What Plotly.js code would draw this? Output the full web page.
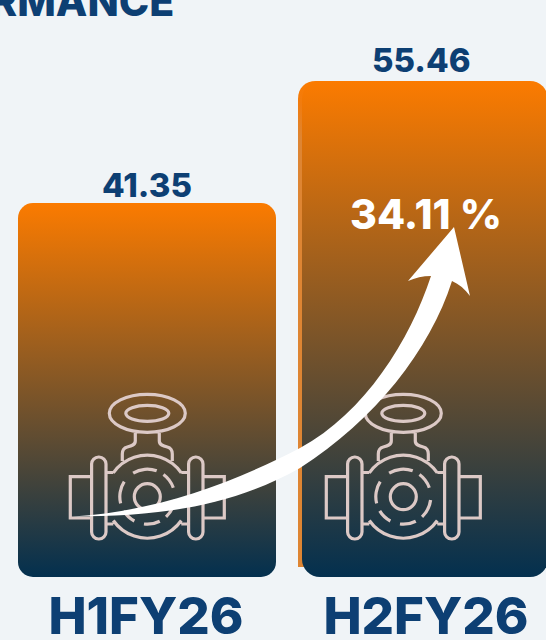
<!DOCTYPE html>
<html>
<head>
<meta charset="utf-8">
<script src="https://cdn.plot.ly/plotly-3.0.1.min.js"></script>
<style>html,body{margin:0;padding:0;background:#f0f4f7;overflow:hidden}#chart{width:546px;height:640px}</style>
</head>
<body>
<div id="chart"></div>
<script>
const categories = ['H1FY26', 'H2FY26'];
const values = [41.35, 55.46];
const valueLabels = ['41.35', '55.46'];
const growthLabel = '34.11 %';
const titleFragment = 'RMANCE';

const W = 546, H = 640, BOTTOM = 577;
const FONT = 'Inter, "Open Sans", sans-serif';
const NAVY = '#0d3f73';
const ICON = '#dcc9c6';

// plot-area pixel -> paper fraction
const px = x => (x / W).toFixed(5);
const py = y => (1 - y / BOTTOM).toFixed(5);
const P = (x, y) => px(x) + ',' + py(y);

function arc(cx, cy, rx, ry, a0, a1, move) {
  const n = Math.max(1, Math.ceil(Math.abs(a1 - a0) / 45));
  const step = (a1 - a0) / n * Math.PI / 180;
  const k = 4 / 3 * Math.tan(step / 4);
  let a = a0 * Math.PI / 180;
  let s = (move ? 'M' : 'L') + P(cx + rx * Math.cos(a), cy - ry * Math.sin(a));
  for (let i = 0; i < n; i++) {
    const b = a + step;
    s += 'C' + P(cx + rx * (Math.cos(a) - k * Math.sin(a)), cy - ry * (Math.sin(a) + k * Math.cos(a))) +
         ' ' + P(cx + rx * (Math.cos(b) + k * Math.sin(b)), cy - ry * (Math.sin(b) - k * Math.cos(b))) +
         ' ' + P(cx + rx * Math.cos(b), cy - ry * Math.sin(b));
    a = b;
  }
  return s;
}
function rrect(x0, y0, x1, y1, r) {
  return arc(x1 - r, y0 + r, r, r, 90, 0, true) + arc(x1 - r, y1 - r, r, r, 0, -90) +
         arc(x0 + r, y1 - r, r, r, -90, -180) + arc(x0 + r, y0 + r, r, r, 180, 90) + 'Z';
}
function valve(cx) {
  const wy = 413.3, cy = 496.7;
  let d = '';
  d += arc(cx, wy, 38, 19, 0, 360, true) + 'Z';
  d += arc(cx, wy, 21.5, 8, 0, 360, true) + 'Z';
  for (const s of [-1, 1]) {
    d += 'M' + P(cx + s * 12, 432) + 'L' + P(cx + s * 12, 441) +
         'C' + P(cx + s * 12, 445) + ' ' + P(cx + s * 16, 446) + ' ' + P(cx + s * 20, 447) +
         'C' + P(cx + s * 24, 448) + ' ' + P(cx + s * 25, 450) + ' ' + P(cx + s * 25, 454) +
         'L' + P(cx + s * 25, 461);
    d += rrect(cx + s * 48.5 - 7.2, 457, cx + s * 48.5 + 7.2, 539, 7);
    const xa = cx + s * 56, xb = cx + s * 77;
    d += 'M' + P(xa, 476.7) + 'L' + P(xb, 476.7) + 'L' + P(xb, 518) + 'L' + P(xa, 518);
    d += 'M' + P(cx + s * 41, 472.5) + 'L' + P(cx + s * 34, 472.5);
    d += 'M' + P(cx + s * 41, 524) + 'L' + P(cx + s * 34, 524);
  }
  d += arc(cx, cy, 41.5, 41.5, 145, 35, true);
  d += arc(cx, cy, 41.5, 41.5, -35, -145, true);
  d += arc(cx, cy, 13, 13, 0, 360, true) + 'Z';
  for (const g of [[121, 70], [54, 19], [-7, -47], [-63, -97], [-118, -149], [-166, -213]]) {
    d += arc(cx, cy, 27.5, 27.5, g[0], g[1], true);
  }
  return {type: 'path', xref: 'paper', yref: 'paper', layer: 'above', path: d,
          line: {color: ICON, width: 3.2}, fillcolor: 'rgba(0,0,0,0)'};
}

const arrowPath =
  'M' + P(73, 516.5) +
  'C' + P(155, 512) + ' ' + P(235, 482) + ' ' + P(300, 448) +
  'C' + P(365, 413) + ' ' + P(410, 340) + ' ' + P(431, 276) +
  'C' + P(423, 276) + ' ' + P(415, 278) + ' ' + P(408, 281) +
  'L' + P(454, 227) + 'L' + P(470, 296) +
  'C' + P(465, 289) + ' ' + P(459, 284) + ' ' + P(452, 281) +
  'C' + P(430, 350) + ' ' + P(375, 420) + ' ' + P(300, 468) +
  'C' + P(225, 510) + ' ' + P(150, 516) + ' ' + P(73, 516.5) + 'Z';

const stripPath = 'M' + P(316, 81) +
  'C' + P(305, 81) + ' ' + P(298, 88) + ' ' + P(298, 99) +
  'L' + P(298, 567) + 'L' + P(330, 567) + 'L' + P(330, 81) + 'Z';

// value scale: tops of the two bars fall at their drawn heights
const SCALE = (203 - 81) / (values[1] - values[0]);
const yAtTop = values[0] + 203 / SCALE;
const BASE = yAtTop - BOTTOM / SCALE;

// category scale
const STEP = 280, C0 = 146;

const data = [{
  type: 'bar',
  x: categories,
  y: values.map(v => v - BASE),
  base: BASE,
  width: [258 / STEP, 246 / STEP],
  offset: [(18 - C0) / STEP, (302 - C0 - STEP) / STEP],
  marker: {color: '#fb7b00', line: {width: 0}},
  cliponaxis: false,
  hoverinfo: 'skip'
}];

const layout = {
  width: W, height: H,
  margin: {l: 0, r: 0, t: 0, b: H - BOTTOM, pad: 0},
  paper_bgcolor: '#f0f4f7',
  plot_bgcolor: 'rgba(0,0,0,0)',
  showlegend: false,
  xaxis: {
    type: 'category',
    range: [-C0 / STEP, (W - C0) / STEP],
    showgrid: false, zeroline: false, showline: false,
    ticks: '', ticklabelstandoff: 5,
    tickfont: {family: FONT, size: 51, color: NAVY, weight: 800},
    fixedrange: true
  },
  yaxis: {range: [BASE, yAtTop], visible: false, fixedrange: true},
  shapes: [
    {type: 'path', xref: 'paper', yref: 'paper', layer: 'below', path: stripPath,
     fillcolor: '#de8533', line: {width: 0}},
    valve(147.3), valve(403.3),
    {type: 'path', xref: 'paper', yref: 'paper', layer: 'above', path: arrowPath,
     fillcolor: '#ffffff', line: {width: 0}}
  ],
  annotations: [
    {text: valueLabels[0], x: categories[0], y: values[0], xref: 'x', yref: 'y',
     xanchor: 'center', yanchor: 'bottom', yshift: -4, xshift: 1, showarrow: false,
     font: {family: FONT, size: 33, color: NAVY, weight: 800}},
    {text: valueLabels[1], x: categories[1], y: values[1], xref: 'x', yref: 'y',
     xanchor: 'center', yanchor: 'bottom', yshift: -1, xshift: -5, showarrow: false,
     font: {family: FONT, size: 33, color: NAVY, weight: 800}},
    {text: growthLabel, xref: 'paper', yref: 'paper', x: 426 / W, y: 1 - 214 / BOTTOM,
     xanchor: 'center', yanchor: 'middle', showarrow: false,
     font: {family: FONT, size: 41, color: '#ffffff', weight: 800}},
    {text: titleFragment, xref: 'paper', yref: 'paper', x: 176 / W, y: 1 - 1.4 / BOTTOM,
     xanchor: 'right', yanchor: 'middle', showarrow: false,
     font: {family: FONT, size: 41, color: NAVY, weight: 800}}
  ]
};

const gd = document.getElementById('chart');
Plotly.newPlot(gd, data, layout, {displayModeBar: false, staticPlot: true}).then(() => {
  const svg = gd.querySelector('.main-svg');
  const defs = svg.querySelector('defs');
  const NS = 'http://www.w3.org/2000/svg';
  function addGradient(id, stops) {
    const grad = document.createElementNS(NS, 'linearGradient');
    grad.id = id;
    grad.setAttribute('x1', '0'); grad.setAttribute('y1', '0');
    grad.setAttribute('x2', '0'); grad.setAttribute('y2', '1');
    stops.forEach(s => {
      const st = document.createElementNS(NS, 'stop');
      st.setAttribute('offset', s[0]); st.setAttribute('stop-color', s[1]);
      grad.appendChild(st);
    });
    defs.appendChild(grad);
  }
  addGradient('barGradient', [['0', '#fb7b00'], ['1', '#03304f']]);
  addGradient('stripGradient', [['0', '#fb7b00'], ['0.05', '#f07c10'], ['0.12', '#de8533'], ['1', '#de8533']]);
  const strip = gd.querySelector('.layer-below .shapelayer path');
  if (strip) strip.style.fill = 'url(#stripGradient)';
  const radii = [15, 18];
  gd.querySelectorAll('.bars .point path').forEach((p, i) => {
    const b = p.getBBox(), r = radii[i];
    const x0 = b.x, x1 = b.x + b.width, y0 = b.y, y1 = b.y + b.height;
    p.setAttribute('d',
      `M${x0 + r},${y0}H${x1 - r}A${r},${r} 0 0 1 ${x1},${y0 + r}V${y1 - r}A${r},${r} 0 0 1 ${x1 - r},${y1}` +
      `H${x0 + r}A${r},${r} 0 0 1 ${x0},${y1 - r}V${y0 + r}A${r},${r} 0 0 1 ${x0 + r},${y0}Z`);
    p.style.fill = 'url(#barGradient)';
  });
});
</script>
</body>
</html>
